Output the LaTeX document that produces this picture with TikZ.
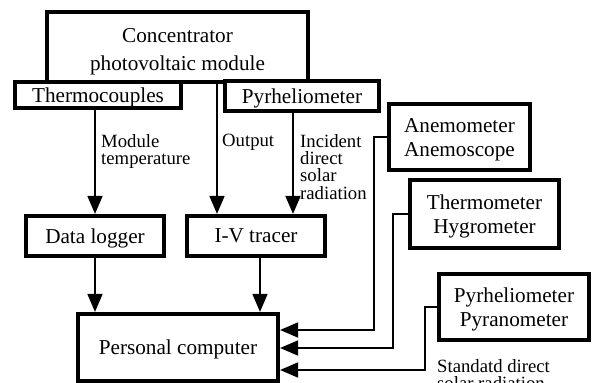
\documentclass[tikz,border=0pt]{standalone}
\usepackage{fontspec}
\setmainfont{Liberation Serif}
\usetikzlibrary{arrows.meta}
\begin{document}
\begin{tikzpicture}[x=1pt,y=-1pt,
  box/.style={draw=black, line width=4.2pt, fill=white, inner sep=0pt,
    text depth=0pt, align=center, font=\fontsize{21.2}{24}\selectfont},
  lbl/.style={inner sep=0pt, anchor=north west, align=left,
    font=\fontsize{18.7}{17.3}\selectfont},
  arr/.style={line width=1.8pt, -{Triangle[length=18pt,width=15pt]}},
  wire/.style={line width=1.8pt}]
\useasboundingbox (0,0) rectangle (592,383);

% module and its sensors
\node[box, minimum width=261pt, minimum height=70pt] (conc) at (177.5,47) {};
\node[inner sep=0pt, align=center, font=\fontsize{21.2}{28}\selectfont]
  (conctext) at (177.5,52) {Concentrator\\photovoltaic module};
\node[box, minimum width=166pt, minimum height=26pt] (tc) at (98,95) {Thermocouples};
\node[box, minimum width=154pt, minimum height=30pt] (pyr) at (302,96) {Pyrheliometer};

% acquisition devices
\node[box, minimum width=138pt, minimum height=40pt] (dl) at (95,236) {Data logger};
\node[box, minimum width=138pt, minimum height=40pt] (iv) at (256,236) {I-V tracer};
\node[box, minimum width=200pt, minimum height=67pt] (pc) at (178,347.5) {Personal computer};

% weather instruments
\node[box, minimum width=141pt, minimum height=66pt] (anem) at (459.5,137) {Anemometer\\Anemoscope};
\node[box, minimum width=149pt, minimum height=68pt] (thermo) at (484.5,214) {Thermometer\\Hygrometer};
\node[box, minimum width=150pt, minimum height=66pt] (pyra) at (514,307) {Pyrheliometer\\Pyranometer};

% signal paths
\draw[arr] (dl.north |- tc.south) -- (dl.north);
\draw[arr] ([xshift=-39pt]iv.north |- conc.south) -- ([xshift=-39pt]iv.north);
\draw[arr] ([xshift=37pt]iv.north |- pyr.south) -- ([xshift=37pt]iv.north);
\draw[arr] (dl.south) -- (dl.south |- pc.north);
\draw[arr] ([xshift=4pt]iv.south) -- ([xshift=4pt]iv.south |- pc.north);
\draw[arr] (anem.west) -- ++(-13,0) |- ([yshift=17.5pt]pc.east);
\draw[arr] (thermo.west) -- ++(-15,0) |- ([yshift=-0.5pt]pc.east);
\draw[arr] (pyra.west) -- ++(-12,0) |- ([yshift=-22.5pt]pc.east);

% signal labels
\node[lbl] (lmod) at (101,134) {Module\\temperature};
\node[lbl] (lout) at (222,134) {Output};
\node[lbl] (linc) at (300,134.2) {Incident\\direct\\solar\\radiation};
\node[lbl] (lstd) at (437,359.2) {Standatd direct\\solar radiation};
\end{tikzpicture}
\end{document}
